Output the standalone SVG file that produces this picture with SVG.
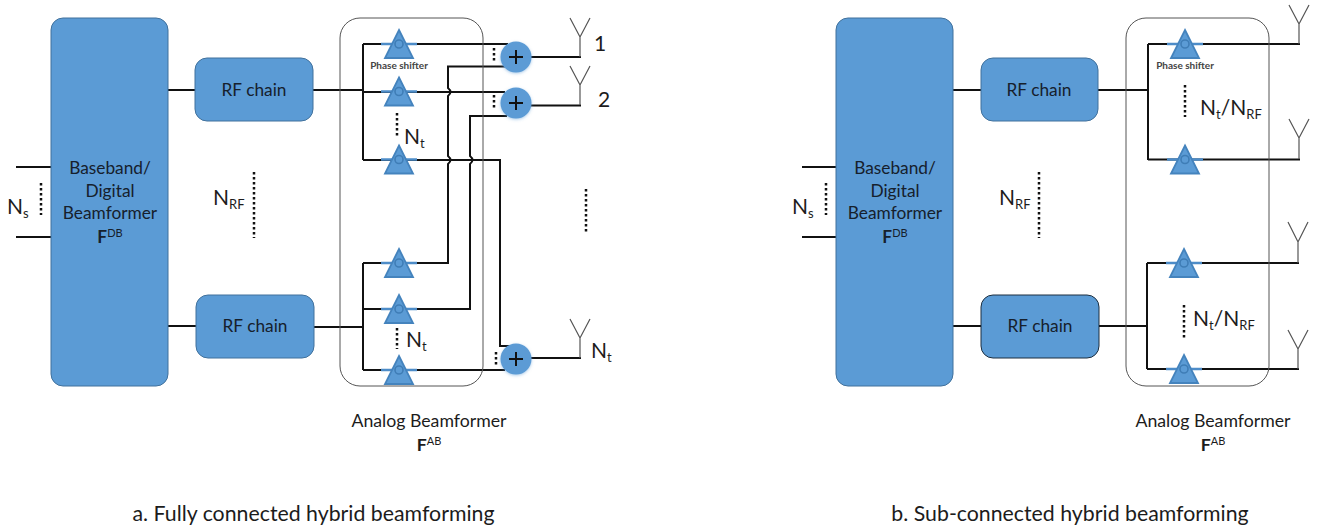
<svg xmlns="http://www.w3.org/2000/svg" width="1325" height="532" viewBox="0 0 1325 532">
<style>
text{font-family:Lato,"Open Sans","Liberation Sans",sans-serif;fill:#1c1c1c}
.rf{font-size:17.300px;fill:#16202c;text-anchor:middle}
.n{font-size:21px}
.sub{font-size:13px}
.cap{font-size:21.300px;text-anchor:middle}
.ps{font-size:10px;font-weight:700;fill:#444;text-anchor:middle}
.lab{font-size:17.700px;text-anchor:middle}
.block{fill:#5b9bd5;stroke:#41719c;stroke-width:1}
.frame{fill:none;stroke:#555;stroke-width:1}
.w{fill:none;stroke:#111;stroke-width:2}
.d{fill:none;stroke:#111;stroke-width:2.500;stroke-dasharray:2.500 2.500}
.ant{fill:none;stroke:#555;stroke-width:1.200}
.tri{fill:#5b9bd5;stroke:#4483bd;stroke-width:1.800}
.sh{fill:none;stroke:#3f7db6;stroke-width:1.600}
.bl{stroke:#4d8cc8;stroke-width:2.400}
.sum{fill:#5b9bd5;filter:url(#glow)}
.plus{stroke:#111;stroke-width:2}
</style>
<defs>
<filter id="glow" x="-30%" y="-30%" width="160%" height="160%"><feDropShadow dx="0" dy="1" stdDeviation="1.500" flood-color="#5b9bd5" flood-opacity=".5"/></filter>
<g id="ps"><line class="bl" x1="-18" y1="0" x2="18" y2="0"/><path class="tri" d="M0 -14L14 14H-14Z"/><circle class="sh" cx="0" cy="0" r="4"/></g>
<g id="add"><circle class="sum" r="15.500"/><path class="plus" d="M-7 0H7M0 -7V7"/></g>
</defs>

<g id="connectors">
<path class="w" d="M168 90H195M168 326H196M16 167H51M16 237H51"/>
<path class="w" d="M313 90H363M314 327H363M363 44V160M363 263V370"/>
<path class="w" d="M363 44H508M363 92H505M363 160H500V346H510"/>
<path class="w" d="M505 66.500H448V88Q453 92 448 96V156Q453 160 448 164V263H417"/>
<path class="w" d="M507 116H470V156Q475 160 470 164V309H417"/>
<path class="w" d="M363 263H381M363 309H381M363 370H505"/>
<path class="w" d="M531 57H581M531 105.500H581M531 358H581"/>
<path class="ant" d="M570 18L580 37L590 18M580 37V57M570 66L580 85L590 66M580 85V105M570 319L580 338L590 319M580 338V358"/>
<path class="d" d="M494 48V62M494 95V110M496 352V366M397 113V137M397 328V349M586 189V233M41 183V215M254 172V238"/>

<path class="w" d="M953 90H981M953 326H981M802 167H836M802 237H836"/>
<path class="w" d="M1098 90H1148M1099 326H1147M1148 44V160M1147 263V369"/>
<path class="w" d="M1148 44H1300M1148 159.500H1300M1147 263H1299M1147 369H1299"/>
<path class="ant" d="M1289 5L1299 24L1309 5M1299 24V44M1289 119L1299 138L1309 119M1299 138V159M1288 222L1298 242L1308 222M1298 242V263M1288 330L1298 349L1308 330M1298 349V369"/>
<path class="d" d="M1185 85V117M1184 305V338M826 183V215M1039 172V238"/>
</g>

<g id="frame-a"><rect class="frame" x="340" y="18" width="143" height="368" rx="20"/></g>
<g id="frame-b"><rect class="frame" x="1126" y="18" width="143" height="368" rx="20"/></g>

<g id="baseband-a">
<rect class="block" x="51" y="18" width="117" height="368" rx="12"/>
<text class="rf" x="110" y="174">Baseband/</text>
<text class="rf" x="110" y="197">Digital</text>
<text class="rf" x="110" y="219">Beamformer</text>
<text class="rf" x="110" y="243"><tspan font-weight="700">F</tspan><tspan font-size="11" dy="-6">DB</tspan></text>
</g>
<g id="rf-a1"><rect class="block" x="195" y="58" width="118" height="63" rx="12"/><text class="rf" x="254" y="96">RF chain</text></g>
<g id="rf-a2"><rect class="block" x="196" y="295" width="118" height="63" rx="12"/><text class="rf" x="255" y="332">RF chain</text></g>

<g id="ps-a1"><use href="#ps" x="399" y="44"/></g>
<g id="ps-a2"><use href="#ps" x="399" y="91.500"/></g>
<g id="ps-a3"><use href="#ps" x="399" y="159.500"/></g>
<g id="ps-a4"><use href="#ps" x="399" y="263"/></g>
<g id="ps-a5"><use href="#ps" x="399" y="309"/></g>
<g id="ps-a6"><use href="#ps" x="399" y="370"/></g>
<g id="sum-1"><use href="#add" x="516" y="57"/></g>
<g id="sum-2"><use href="#add" x="516" y="103"/></g>
<g id="sum-3"><use href="#add" x="516" y="359"/></g>

<g id="labels-a">
<text class="ps" x="399" y="69">Phase shifter</text>
<text class="n" x="404" y="144">N<tspan class="sub" dy="4">t</tspan></text>
<text class="n" x="406" y="347">N<tspan class="sub" dy="4">t</tspan></text>
<text class="n" x="7" y="214">N<tspan class="sub" dy="4">s</tspan></text>
<text class="n" x="213" y="205">N<tspan class="sub" dy="4">RF</tspan></text>
<text class="n" x="594" y="51">1</text>
<text class="n" x="598" y="107">2</text>
<text class="n" x="591" y="358">N<tspan class="sub" dy="4">t</tspan></text>
<text class="lab" x="429" y="427">Analog Beamformer</text>
<text class="lab" x="429" y="451"><tspan font-weight="700">F</tspan><tspan font-size="11" dy="-6">AB</tspan></text>
<text class="cap" x="313.500" y="521">a. Fully connected hybrid beamforming</text>
</g>

<g id="baseband-b">
<rect class="block" x="836" y="18" width="117" height="368" rx="12"/>
<text class="rf" x="895" y="174">Baseband/</text>
<text class="rf" x="895" y="197">Digital</text>
<text class="rf" x="895" y="219">Beamformer</text>
<text class="rf" x="895" y="243"><tspan font-weight="700">F</tspan><tspan font-size="11" dy="-6">DB</tspan></text>
</g>
<g id="rf-b1"><rect class="block" x="981" y="58" width="117" height="63" rx="12"/><text class="rf" x="1039" y="96">RF chain</text></g>
<g id="rf-b2"><rect class="block" x="981" y="295" width="118" height="63" rx="12" style="stroke:#1d2f40"/><text class="rf" x="1040" y="332">RF chain</text></g>

<g id="ps-b1"><use href="#ps" x="1185" y="44"/></g>
<g id="ps-b2"><use href="#ps" x="1185" y="159.500"/></g>
<g id="ps-b3"><use href="#ps" x="1184" y="263"/></g>
<g id="ps-b4"><use href="#ps" x="1184" y="369"/></g>

<g id="labels-b">
<text class="ps" x="1185" y="69">Phase shifter</text>
<text class="n" x="1200" y="115">N<tspan class="sub" dy="4">t</tspan><tspan dy="-4">/N</tspan><tspan class="sub" dy="4">RF</tspan></text>
<text class="n" x="1193" y="326">N<tspan class="sub" dy="4">t</tspan><tspan dy="-4">/N</tspan><tspan class="sub" dy="4">RF</tspan></text>
<text class="n" x="792" y="214">N<tspan class="sub" dy="4">s</tspan></text>
<text class="n" x="999" y="205">N<tspan class="sub" dy="4">RF</tspan></text>
<text class="lab" x="1213" y="427">Analog Beamformer</text>
<text class="lab" x="1213" y="451"><tspan font-weight="700">F</tspan><tspan font-size="11" dy="-6">AB</tspan></text>
<text class="cap" x="1070" y="521">b. Sub-connected hybrid beamforming</text>
</g>
</svg>
